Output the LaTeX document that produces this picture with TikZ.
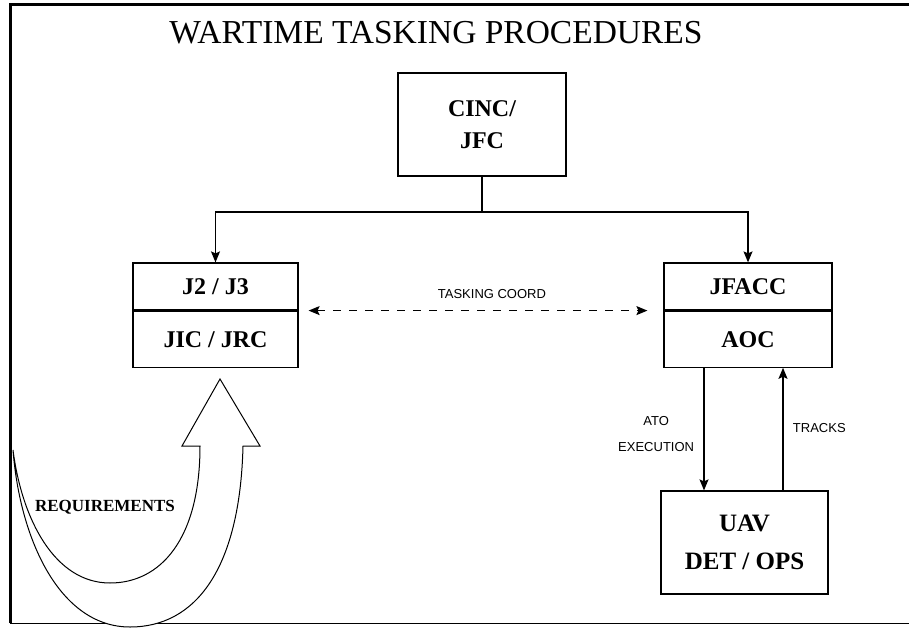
\documentclass[tikz,border=0pt]{standalone}
\usepackage{fontspec}
\setmainfont{Liberation Serif}
\setsansfont{Liberation Sans}
\usetikzlibrary{arrows.meta, positioning}
\tikzset{
    myarrow/.style={-{Stealth[length=11pt, width=9pt, inset=2pt]}},
    mydarrow/.style={{Stealth[length=11pt, width=9pt, inset=2pt]}-{Stealth[length=11pt, width=9pt, inset=2pt]}},
    box/.style={draw, rectangle, fill=white, line width=1.2pt, align=center, inner sep=0pt, font=\bfseries\fontsize{24}{28}\selectfont},
    note/.style={font=\sffamily\fontsize{13}{16}\selectfont, align=center}
}

\begin{document}
\begin{tikzpicture}[x=1pt, y=-1pt, line width=1.2pt]
    \useasboundingbox (0,0) rectangle (909,628);
    % frame
    \draw[line width=3pt] (10,623) -- (10,5) -- (909,5);
    \draw[line width=0.8pt] (10,623) -- (909,623);

    \node (title) at (436,33) [font=\fontsize{33.5}{36}\selectfont] {WARTIME TASKING PROCEDURES};

    \node (cinc) at (482,124.5) [box, minimum width=168pt, minimum height=103pt] {CINC/\\[4pt]JFC};
    \node (j2) at (215.5,286.5) [box, minimum width=165pt, minimum height=47pt] {J2 / J3};
    \node (jic) [box, below=0pt of j2, minimum width=165pt, minimum height=56pt] {JIC / JRC};
    \node (jfacc) at (748,286.5) [box, minimum width=168pt, minimum height=47pt] {JFACC};
    \node (aoc) [box, below=0pt of jfacc, minimum width=168pt, minimum height=56pt] {AOC};
    \node (uav) at (744.5,542.5) [box, minimum width=167pt, minimum height=103pt, font=\bfseries\fontsize{25}{30}\selectfont] {UAV\\[8pt]DET / OPS};

    % tasking lines
    \coordinate (split) at (482,212);
    \draw (cinc) -- (split);
    \draw [myarrow] (split) -| (j2);
    \draw [myarrow] (split) -| (jfacc);
    \draw [mydarrow, dash pattern=on 8pt off 8pt, shorten <=10pt, shorten >=16pt]
        (j2.south east) -- node[note, above=8pt, pos=0.53] {TASKING COORD} (jfacc.south west);
    \draw [myarrow] ([xshift=-44pt]aoc.south) -- ([xshift=-44pt]aoc.south |- uav.north)
        node[note, pos=0.54, left=6pt] {ATO\\[10pt]EXECUTION};
    \draw [myarrow] ([xshift=35pt]aoc.south |- uav.north) -- ([xshift=35pt]aoc.south)
        node[note, pos=0.51, right=6pt] {TRACKS};

    % requirements arrow
    \draw [fill=white, line width=1pt] (13,450) .. controls (22,520) and (55,583) .. (110,583)
        .. controls (160,583) and (200,540) .. (200,446) -- (182,446) -- (220,379) -- (260,446) -- (243,446)
        .. controls (240,570) and (195,627) .. (130,627) .. controls (60,627) and (20,540) .. (13,450) -- cycle;
    \node (req) at (105,507) [font=\bfseries\fontsize{17}{20}\selectfont] {REQUIREMENTS};
\end{tikzpicture}
\end{document}
